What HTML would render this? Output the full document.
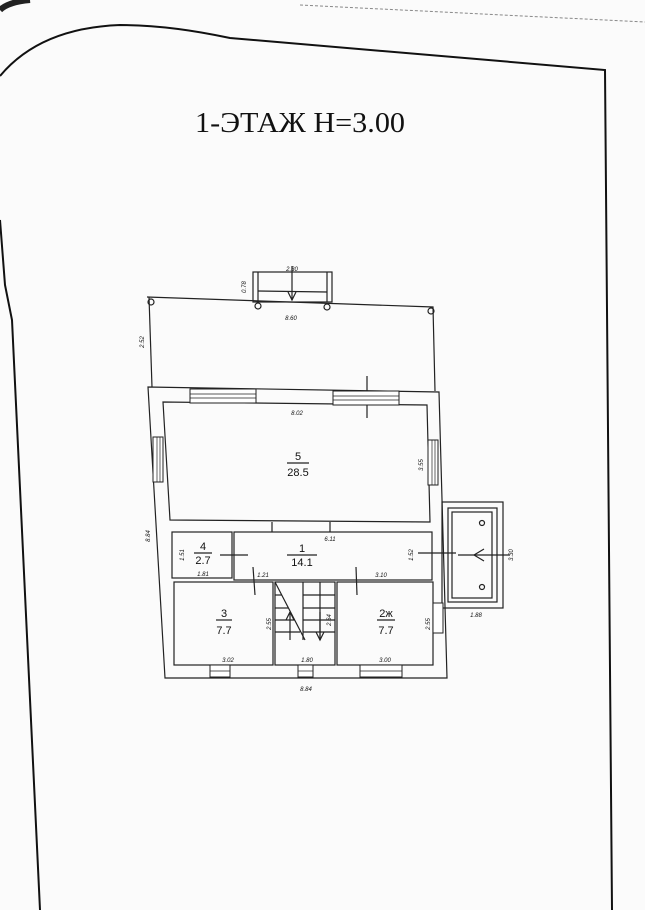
<!DOCTYPE html>
<html><head><meta charset="utf-8"><style>
html,body{margin:0;padding:0;background:#fafafa;}
svg{display:block;}
</style></head><body>
<svg width="645" height="910" viewBox="0 0 645 910" xmlns="http://www.w3.org/2000/svg" font-family="Liberation Sans, sans-serif">
<rect width="645" height="910" fill="#fbfbfb"/>
<!-- page edges -->
<path d="M0,10 Q8,2 30,0" stroke="#222" stroke-width="6" fill="none"/>
<path d="M0,76 Q40,28 120,25 Q170,25 230,38 L605,70 L612,910" stroke="#111" stroke-width="2" fill="none"/>
<path d="M300,5 L645,22" stroke="#888" stroke-width="1" stroke-dasharray="3,2" fill="none"/>
<path d="M0,220 L5,285 L12,320 L40,910" stroke="#111" stroke-width="2" fill="none"/>
<text x="195" y="132" font-family="Liberation Serif, serif" font-size="28" fill="#111" textLength="210" lengthAdjust="spacingAndGlyphs">1-ЭТАЖ H=3.00</text>

<g stroke="#222" stroke-width="1.2" fill="none">
<rect x="253" y="272" width="79" height="30"/>
<line x1="258" y1="272" x2="258" y2="302"/><line x1="327" y1="272" x2="327" y2="302"/>
<line x1="258" y1="291" x2="327" y2="292"/>
<line x1="292" y1="266" x2="292" y2="300"/>
<path d="M288,292 L292,300 L296,292"/>
<path d="M147,297 L433,307 L435,391"/>
<line x1="149" y1="297" x2="152" y2="387"/>
<circle cx="151" cy="302" r="3"/><circle cx="258" cy="306" r="3"/><circle cx="327" cy="307" r="3"/><circle cx="431" cy="311" r="3"/>
<path d="M148,387 L439,392 L447,678 L165,678 Z"/>
<path d="M163,402 L427,405 L430,522 L170,520 Z"/>
<rect x="172" y="532" width="60" height="46"/>
<rect x="234" y="532" width="198" height="48"/>
<rect x="174" y="582" width="99" height="83"/>
<rect x="275" y="582" width="60" height="83"/>
<rect x="337" y="582" width="96" height="83"/>
<path d="M275,582 L305,640"/>
<line x1="303" y1="582" x2="303" y2="640"/>
<line x1="320" y1="582" x2="320" y2="640"/>
<line x1="275" y1="595" x2="282" y2="595"/><line x1="275" y1="608" x2="288" y2="608"/><line x1="275" y1="620" x2="295" y2="620"/><line x1="275" y1="632" x2="300" y2="632"/>
<line x1="303" y1="595" x2="335" y2="595"/><line x1="303" y1="608" x2="335" y2="608"/><line x1="303" y1="620" x2="335" y2="620"/><line x1="303" y1="632" x2="335" y2="632"/>
<line x1="290" y1="640" x2="290" y2="612"/><path d="M286,620 L290,612 L294,620"/>
<line x1="320" y1="612" x2="320" y2="640"/><path d="M316,632 L320,640 L324,632"/>
<rect x="442" y="502" width="61" height="106"/>
<rect x="448" y="508" width="49" height="94"/>
<rect x="452" y="512" width="40" height="86"/>
<circle cx="482" cy="523" r="2.5"/><circle cx="482" cy="587" r="2.5"/>
<line x1="458" y1="555" x2="510" y2="555"/><path d="M484,549 L474,555 L484,561"/>
<line x1="367" y1="376" x2="367" y2="418"/>
<line x1="220" y1="555" x2="248" y2="555"/>
<line x1="418" y1="553" x2="456" y2="553"/>
<line x1="253" y1="567" x2="255" y2="595"/>
<line x1="356" y1="567" x2="357" y2="595"/>
<line x1="272" y1="522" x2="272" y2="532"/><line x1="330" y1="522" x2="330" y2="532"/>
<line x1="287" y1="463" x2="309" y2="463"/><line x1="287" y1="555" x2="317" y2="555"/>
<line x1="194" y1="553" x2="212" y2="553"/><line x1="216" y1="620" x2="232" y2="620"/>
<line x1="377" y1="620" x2="395" y2="620"/>
</g>
<g fill="#fff" stroke="#222" stroke-width="1">
<rect x="190" y="389" width="66" height="14"/>
<rect x="333" y="391" width="66" height="14"/>
<rect x="153" y="437" width="10" height="45"/>
<rect x="428" y="440" width="10" height="45"/>
<rect x="433" y="603" width="10" height="30"/>
<rect x="210" y="665" width="20" height="12"/>
<rect x="298" y="665" width="15" height="12"/>
<rect x="360" y="665" width="42" height="12"/>
</g>
<g stroke="#222" stroke-width="0.7">
<line x1="190" y1="394" x2="256" y2="394"/><line x1="190" y1="398" x2="256" y2="398"/>
<line x1="333" y1="396" x2="399" y2="396"/><line x1="333" y1="400" x2="399" y2="400"/>
<line x1="157" y1="437" x2="157" y2="482"/><line x1="160" y1="437" x2="160" y2="482"/>
<line x1="432" y1="440" x2="432" y2="485"/><line x1="435" y1="440" x2="435" y2="485"/>
<line x1="210" y1="671" x2="230" y2="671"/><line x1="298" y1="671" x2="313" y2="671"/><line x1="360" y1="671" x2="402" y2="671"/>
</g>
<g font-size="11" text-anchor="middle" fill="#111">
<text x="298" y="460">5</text><text x="298" y="476">28.5</text>
<text x="203" y="550">4</text><text x="203" y="564">2.7</text>
<text x="302" y="552">1</text><text x="302" y="566">14.1</text>
<text x="224" y="617">3</text><text x="224" y="634">7.7</text>
<text x="386" y="617">2ж</text><text x="386" y="634">7.7</text>
</g>
<g font-size="6" font-style="italic" text-anchor="middle" fill="#111">
<text x="292" y="271">2.30</text>
<text x="291" y="320">8.60</text>
<text x="297" y="415">8.02</text>
<text x="330" y="541">6.11</text>
<text x="203" y="576">1.81</text>
<text x="263" y="577">1.21</text>
<text x="381" y="577">3.10</text>
<text x="228" y="662">3.02</text>
<text x="307" y="662">1.80</text>
<text x="385" y="662">3.00</text>
<text x="306" y="691">8.84</text>
<text x="476" y="617">1.88</text>
<text x="246" y="287" transform="rotate(-90 246 287)">0.78</text>
<text x="144" y="342" transform="rotate(-90 144 342)">2.52</text>
<text x="150" y="536" transform="rotate(-90 150 536)">8.84</text>
<text x="423" y="465" transform="rotate(-90 423 465)">3.55</text>
<text x="184" y="555" transform="rotate(-90 184 555)">1.51</text>
<text x="413" y="555" transform="rotate(-90 413 555)">1.52</text>
<text x="513" y="555" transform="rotate(-90 513 555)">3.30</text>
<text x="271" y="624" transform="rotate(-90 271 624)">2.55</text>
<text x="331" y="620" transform="rotate(-90 331 620)">2.64</text>
<text x="430" y="624" transform="rotate(-90 430 624)">2.55</text>
</g>
</svg>
</body></html>
